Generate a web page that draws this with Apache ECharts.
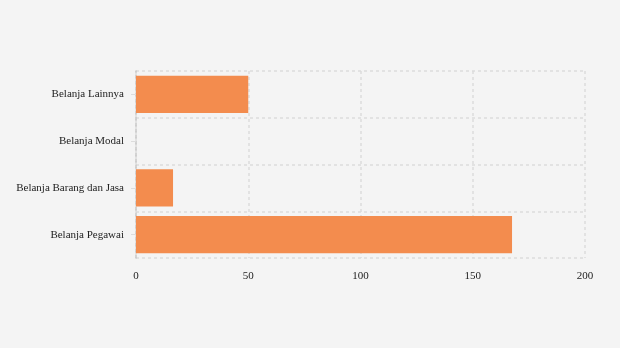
<!DOCTYPE html>
<html><head><meta charset="utf-8">
<style>html,body{margin:0;padding:0;background:#f4f4f4;}#c{width:620px;height:348px;}</style>
<script src="https://cdn.jsdelivr.net/npm/echarts@6/dist/echarts.min.js"></script>
</head><body><div id="c"></div>
<script>
var categories = ["Belanja Pegawai", "Belanja Barang dan Jasa", "Belanja Modal", "Belanja Lainnya"];
var values = [167.5, 16.5, 0, 50];
var xTicks = [0, 50, 100, 150, 200];

var chart = echarts.init(document.getElementById('c'));
chart.setOption({
  backgroundColor: '#f4f4f4',
  animation: false,
  grid: {left: 136, right: 35, top: 71, bottom: 90},
  xAxis: {
    type: 'value', min: xTicks[0], max: xTicks[xTicks.length-1], interval: 50,
    axisLine: {show: false}, axisTick: {show: false},
    axisLabel: {color: '#222', fontFamily: 'Liberation Serif', fontSize: 11, margin: 13},
    splitLine: {show: true, lineStyle: {color: '#dcdcdc', type: [3, 3], width: 1.5}}
  },
  yAxis: {
    type: 'category', data: categories,
    axisLine: {show: true, lineStyle: {color: '#c8c8c8', type: [3, 3], width: 1.5}},
    axisTick: {show: true, alignWithLabel: true, length: 5, lineStyle: {color: '#dcdcdc'}},
    axisLabel: {color: '#222', fontFamily: 'Liberation Serif', fontSize: 11, margin: 12},
    splitLine: {show: true, lineStyle: {color: '#dcdcdc', type: [3, 3], width: 1.5}}
  },
  series: [{
    type: 'bar', data: values, barCategoryGap: '20%',
    itemStyle: {color: '#f38c4e'}
  }]
});
</script></body></html>
